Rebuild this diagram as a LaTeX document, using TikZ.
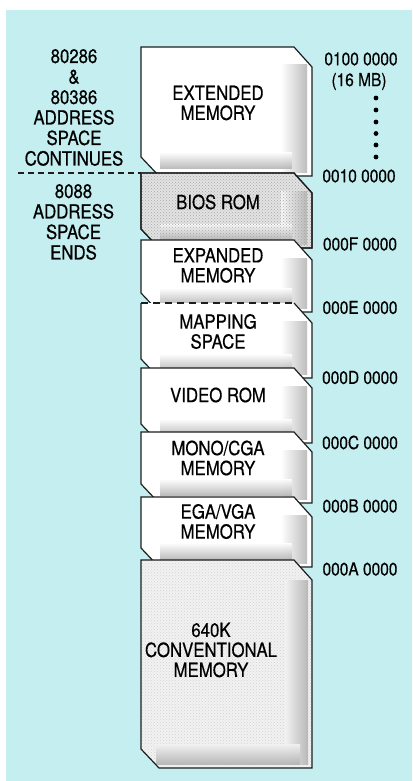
\documentclass[tikz,border=0pt]{standalone}
\usepackage{fontspec}
\setmainfont[FakeStretch=0.86, FakeBold=0.5]{TeX Gyre Heros}
\usetikzlibrary{patterns}
\definecolor{bgcyan}{RGB}{196,238,240}
\definecolor{ink}{RGB}{30,30,30}
\newcommand\blk[2]{(141,#1) -- (294,#1) -- (312,#1+20) -- (312,#2) -- (159,#2) -- (141,#2-19) -- cycle}
\newcommand\membox[3]{%
  \begin{scope}
    \clip \blk{#1}{#2};
    \fill[#3] \blk{#1}{#2};
    \shade[left color=white, right color=gray!60, opacity=0.85] (281,#1+18) rectangle (307,#2-4);
    \shade[top color=white, bottom color=gray!60, opacity=0.85] (160,#2-24) rectangle (292,#2-8);
  \end{scope}
  \draw[outline] \blk{#1}{#2};}
\tikzset{
  outline/.style={draw=ink, line width=1.2pt, line join=miter},
  lbl/.style={font=\fontsize{19.5}{20}\selectfont, text=black, inner sep=0pt, align=center},
  addr/.style={font=\fontsize{18}{19}\selectfont, text=black, inner sep=0pt},
  whitefill/.style={fill=white},
  biosfill/.style={fill=gray!22},
  convfill/.style={fill=gray!10},
}
\begin{document}
\begin{tikzpicture}[x=1pt, y=-1pt]
\useasboundingbox (0,0) rectangle (412,781);
\fill[white] (0,0) rectangle (412,781);
\fill[bgcyan] (6,10) rectangle (412,781);

% left dashed separator
\coordinate (dl) at (18,173);
\coordinate (dr) at (141,173);
\draw[ink, line width=1.1pt, dash pattern=on 6pt off 4pt] (dl) -- (dr);

% blocks, drawn top to bottom
\membox{47}{176}{whitefill}
\membox{173}{248}{biosfill}
\begin{scope}
\clip \blk{173}{248};
\fill[pattern=crosshatch dots, pattern color=gray!70] \blk{173}{248};
\end{scope}
\draw[outline] \blk{173}{248};
\membox{240}{312}{whitefill}
% mapping space: dashed top edge
\begin{scope}
  \clip \blk{303}{378};
  \fill[white] \blk{303}{378};
  \shade[left color=white, right color=gray!60, opacity=0.85] (281,321) rectangle (307,374);
  \shade[top color=white, bottom color=gray!60, opacity=0.85] (160,354) rectangle (292,370);
\end{scope}
\draw[outline] (294,303) -- (312,323) -- (312,378) -- (159,378) -- (141,359) -- (141,303);
\draw[ink, line width=1.1pt, dash pattern=on 7pt off 5pt] (141,303) -- (294,303);
\membox{368}{443}{whitefill}
\membox{432}{503}{whitefill}
\membox{497}{567}{whitefill}
\begin{scope}
  \clip \blk{560}{768};
  \fill[convfill] \blk{560}{768};
  \fill[pattern=crosshatch dots, pattern color=gray!35] \blk{560}{768};
  \shade[left color=gray!10, right color=gray!60, opacity=0.9] (285,580) rectangle (308,764);
  \shade[top color=gray!10, bottom color=gray!60, opacity=0.9] (156,744) rectangle (300,764);
\end{scope}
\draw[outline] \blk{560}{768};

% block labels
\node[lbl] (ext) at (218,103) {EXTENDED\\MEMORY};
\node[lbl] (bios) at (218,202) {BIOS ROM};
\node[lbl] (expd) at (218,265.5) {EXPANDED\\MEMORY};
\node[lbl] (map) at (218,331.5) {MAPPING\\SPACE};
\node[lbl] (vid) at (218,395) {VIDEO ROM};
\node[lbl] (mono) at (218,458) {MONO/CGA\\MEMORY};
\node[lbl] (ega) at (218,521.5) {EGA/VGA\\MEMORY};
\node[lbl] (conv) at (211,650) {640K\\CONVENTIONAL\\MEMORY};

% left labels
\node[lbl, font=\fontsize{19.5}{20.5}\selectfont] (l286) at (74,107.5) {80286\\\&\\80386\\ADDRESS\\SPACE\\CONTINUES};
\node[lbl, font=\fontsize{19.5}{20.5}\selectfont] (l88) at (73.5,222) {8088\\ADDRESS\\SPACE\\ENDS};

% address labels
\node[addr] (a1) at (361,59) {0100 0000};
\node[addr] (a1b) at (359,81.5) {(16 MB)};
\foreach \yy in {98,110,122,133.5,145,157}
  \fill[black] (376,\yy) circle (2.4pt);
\node[addr] (a2) at (359,176) {0010 0000};
\node[addr] (a3) at (360,244) {000F 0000};
\node[addr] (a4) at (360,307.5) {000E 0000};
\node[addr] (a5) at (360,377.5) {000D 0000};
\node[addr] (a6) at (360,442.5) {000C 0000};
\node[addr] (a7) at (360,506) {000B 0000};
\node[addr] (a8) at (360,569) {000A 0000};
\end{tikzpicture}
\end{document}
